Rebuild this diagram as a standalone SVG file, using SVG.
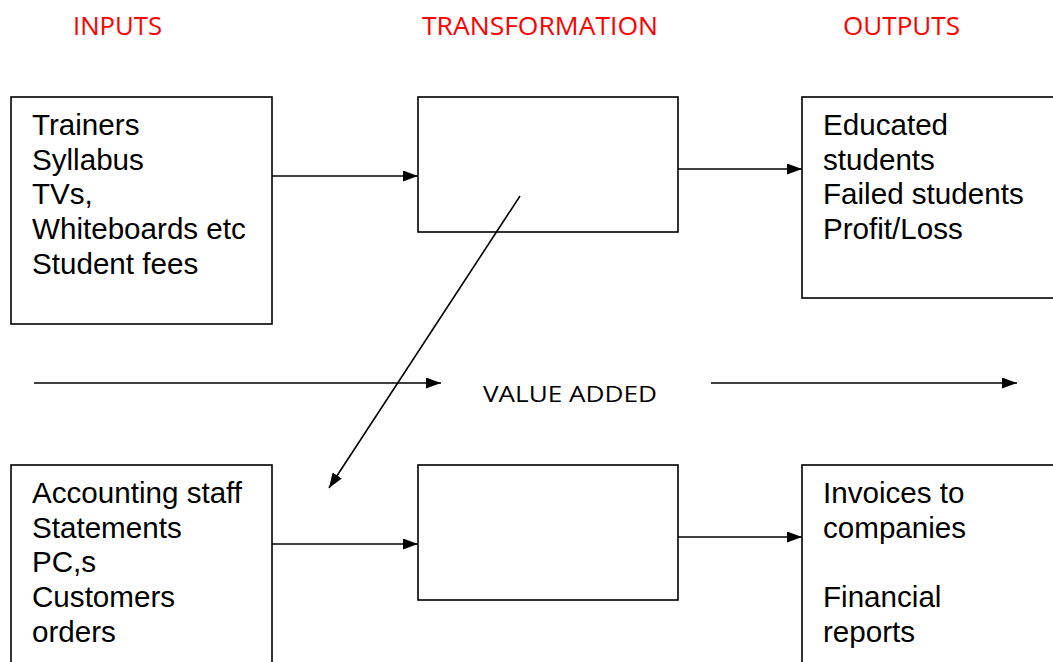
<svg xmlns="http://www.w3.org/2000/svg" width="1053" height="662" viewBox="0 0 1053 662">
<style>
.box{fill:#fff;stroke:#000;stroke-width:1.6}
.t{font-family:"Liberation Sans",Arial,sans-serif;font-size:29.6px;fill:#000}
.h{font-family:"Open Sans","Noto Sans",sans-serif;font-size:25px;fill:#ff0000}
.v{font-family:"Open Sans","Noto Sans",sans-serif;font-size:22.5px;fill:#000}
.c{stroke:#000;stroke-width:1.6;fill:none}
</style>
<defs>
<marker id="ah2" viewBox="0 0 10 10" refX="10" refY="5" markerWidth="15" markerHeight="11" markerUnits="userSpaceOnUse" orient="auto" preserveAspectRatio="none">
<path d="M0,0 L10,5 L0,10 z" fill="#000"/>
</marker>
</defs>
<rect width="1053" height="662" fill="#fff"/>
<g id="headers">
<text class="h" x="73" y="35" textLength="89" lengthAdjust="spacingAndGlyphs">INPUTS</text>
<text class="h" x="422" y="35" textLength="236" lengthAdjust="spacingAndGlyphs">TRANSFORMATION</text>
<text class="h" x="843" y="35" textLength="117" lengthAdjust="spacingAndGlyphs">OUTPUTS</text>
</g>
<g id="inputs1">
<rect class="box" x="11" y="97" width="261" height="227"/>
<text class="t" x="32" y="135">Trainers</text>
<text class="t" x="32" y="170">Syllabus</text>
<text class="t" x="32" y="204">TVs,</text>
<text class="t" x="32" y="239">Whiteboards etc</text>
<text class="t" x="32" y="274">Student fees</text>
</g>
<g id="transform1">
<rect class="box" x="418" y="97" width="260" height="135"/>
</g>
<g id="outputs1">
<rect class="box" x="802" y="97" width="260" height="201"/>
<text class="t" x="823" y="135">Educated</text>
<text class="t" x="823" y="170">students</text>
<text class="t" x="823" y="204">Failed students</text>
<text class="t" x="823" y="239">Profit/Loss</text>
</g>
<g id="inputs2">
<rect class="box" x="11" y="465" width="261" height="210"/>
<text class="t" x="32" y="503">Accounting staff</text>
<text class="t" x="32" y="538">Statements</text>
<text class="t" x="32" y="572">PC,s</text>
<text class="t" x="32" y="607">Customers</text>
<text class="t" x="32" y="642">orders</text>
</g>
<g id="transform2">
<rect class="box" x="418" y="465" width="260" height="135"/>
</g>
<g id="outputs2">
<rect class="box" x="802" y="465" width="260" height="210"/>
<text class="t" x="823" y="503">Invoices to</text>
<text class="t" x="823" y="538">companies</text>
<text class="t" x="823" y="607">Financial</text>
<text class="t" x="823" y="642">reports</text>
</g>
<g id="value-added">
<text class="v" x="483" y="402" textLength="174" lengthAdjust="spacingAndGlyphs">VALUE ADDED</text>
</g>
<g id="connectors">
<line class="c" x1="272" y1="176" x2="418" y2="176" marker-end="url(#ah2)"/>
<line class="c" x1="678" y1="169" x2="802" y2="169" marker-end="url(#ah2)"/>
<line class="c" x1="272" y1="544" x2="418" y2="544" marker-end="url(#ah2)"/>
<line class="c" x1="678" y1="537" x2="802" y2="537" marker-end="url(#ah2)"/>
<line class="c" x1="520" y1="196" x2="329" y2="488" marker-end="url(#ah2)"/>
<line class="c" x1="34" y1="383" x2="441" y2="383" marker-end="url(#ah2)"/>
<line class="c" x1="711" y1="383" x2="1017" y2="383" marker-end="url(#ah2)"/>
</g>
</svg>
